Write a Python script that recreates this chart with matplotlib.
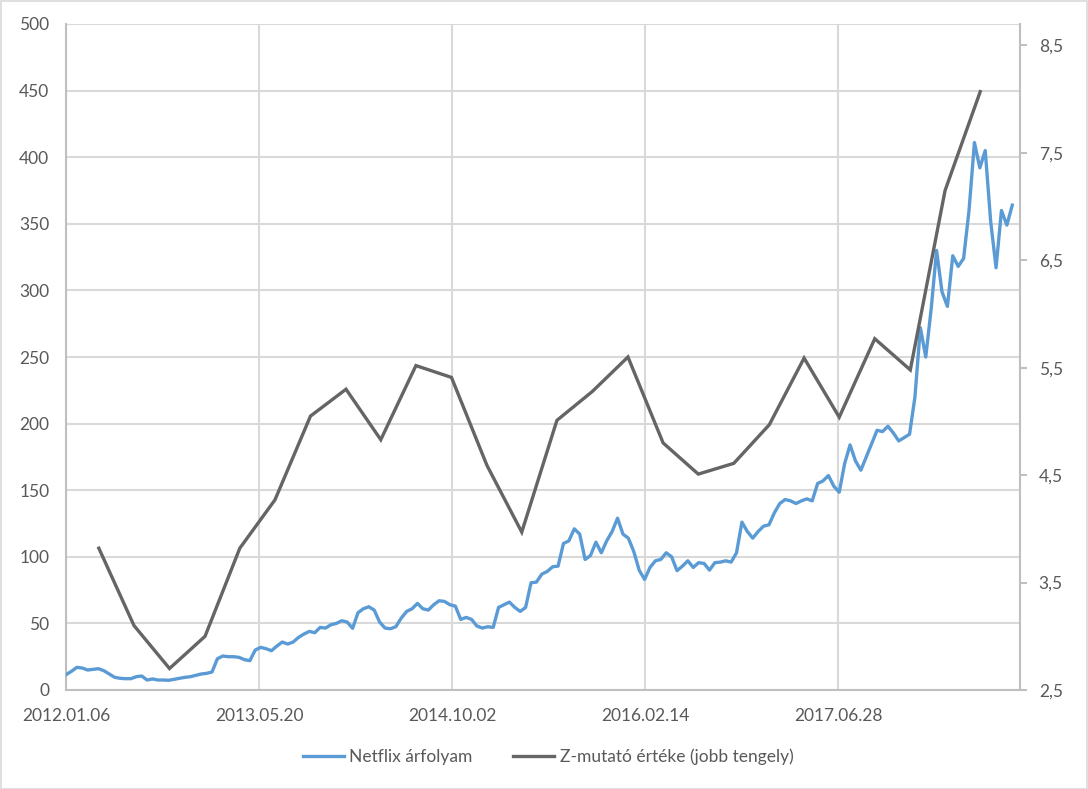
import matplotlib
matplotlib.use("Agg")
import matplotlib.pyplot as plt
import matplotlib.dates as mdates
from matplotlib.ticker import FuncFormatter, FixedLocator
import pandas as pd
import numpy as np

# ---- data ----
netflix_start = "2012-01-06"
netflix_step_days = 14
netflix_values = [
    11.5, 14, 17, 16.5, 15, 15.5, 16, 14.5, 12, 9.5,
    8.8, 8.5, 8.5, 10, 10.5, 7.5, 8.3, 7.5, 7.5, 7.3,
    8, 8.8, 9.5, 10, 11, 12, 12.5, 13.5, 23.5, 25.5,
    25, 25, 24.5, 22.8, 22, 30, 32, 31, 29.5, 33,
    36, 34.5, 36, 39.5, 42, 44, 43, 47, 46.5, 49,
    50, 52, 51, 46.3, 58, 61, 62.5, 60, 51, 46.5,
    46, 47.5, 54, 59, 61, 65, 61, 60, 64, 67,
    66.5, 64, 63, 53, 54.5, 53, 48, 46.5, 47.5, 47,
    62, 64, 66, 62, 59, 62, 80.5, 81, 87, 89,
    92.5, 93, 110, 112, 121, 117, 98, 101, 111, 103,
    112, 119, 129, 117, 114, 104, 90, 83, 92, 97,
    98, 103, 100, 89.6, 93, 97, 92, 95.6, 95, 90,
    95.6, 96, 97, 96, 103, 126, 119, 114, 119, 123,
    124, 133, 140, 143, 142, 140, 142, 143.5, 142, 155,
    157, 161, 153, 148.5, 170, 184, 172, 165, 175, 185,
    195, 194, 198, 193, 187, 189.5, 192, 220, 272, 250,
    286, 330, 299, 288, 326, 318, 324, 360, 411, 392,
    405, 352, 317, 360, 349, 364,
]
netflix_dates = pd.date_range(netflix_start, periods=len(netflix_values),
                              freq=f"{netflix_step_days}D")

z_dates = pd.date_range("2012-03-31", "2018-06-30", freq="QE")
z_values = [
    3.82, 3.10, 2.70, 3.00, 3.82, 4.27, 5.05, 5.30, 4.83, 5.52,
    5.41, 4.59, 3.97, 5.01, 5.28, 5.60, 4.80, 4.51, 4.61, 4.97,
    5.59, 5.04, 5.77, 5.48, 7.15, 8.07,
]

x_ticks = ["2012-01-06", "2013-05-20", "2014-10-02", "2016-02-14", "2017-06-28"]
x_end = "2018-10-11"
left_ticks = list(range(0, 501, 50))
right_ticks = [2.5, 3.5, 4.5, 5.5, 6.5, 7.5, 8.5]

label_netflix = "Netflix árfolyam"
label_z = "Z-mutató értéke (jobb tengely)"

# ---- style ----
plt.rcParams['font.family'] = ['Lato', 'DejaVu Sans']
txt_color = "#595959"
grid_color = "#D9D9D9"
axis_color = "#BFBFBF"
blue = "#5B9BD5"
gray = "#666464"
fs = 12.5

W, H = 1088, 789
fig = plt.figure(figsize=(W / 100, H / 100), dpi=100)
ax = fig.add_axes([66 / W, 1 - 690 / H, (1020 - 66) / W, (690 - 24) / H])
ax2 = ax.twinx()

ln1, = ax.plot(netflix_dates, netflix_values, color=blue, lw=2.4,
               solid_joinstyle="round", zorder=3)
ln2, = ax2.plot(z_dates, z_values, color=gray, lw=2.4,
                solid_joinstyle="miter", zorder=3)

ax.set_xlim(pd.Timestamp(x_ticks[0]), pd.Timestamp(x_end))
ax.set_ylim(0, 500)
ax2.set_ylim(2.5, 8.7)

ax.xaxis.set_major_locator(FixedLocator(mdates.date2num(pd.to_datetime(x_ticks))))
ax.xaxis.set_major_formatter(mdates.DateFormatter("%Y.%m.%d"))
ax.set_yticks(left_ticks)
ax2.set_yticks(right_ticks)
ax2.yaxis.set_major_formatter(FuncFormatter(lambda v, p: f"{v:.1f}".replace(".", ",")))

ax.grid(True, color=grid_color, lw=1.5, zorder=0)
ax.set_axisbelow(True)

for a in (ax, ax2):
    for s in a.spines.values():
        s.set_visible(False)
ax.spines['bottom'].set_visible(True)
ax.spines['bottom'].set_color(axis_color)
ax.spines['bottom'].set_linewidth(1.5)
ax.spines['left'].set_visible(True)
ax.spines['left'].set_color(axis_color)
ax.spines['left'].set_linewidth(1.5)
ax2.spines['right'].set_visible(True)
ax2.spines['right'].set_color(axis_color)
ax2.spines['right'].set_linewidth(1.5)

ax.tick_params(axis='y', length=0, pad=12, labelsize=fs, labelcolor=txt_color)
ax.tick_params(axis='x', length=0, pad=13, labelsize=fs, labelcolor=txt_color)
ax2.tick_params(axis='y', length=5, width=1.5, color=axis_color, pad=8.5,
                labelsize=fs, labelcolor=txt_color)

leg = fig.legend([ln1, ln2], [label_netflix, label_z], loc="center",
                 bbox_to_anchor=(548 / W, 1 - 757 / H), ncol=2, frameon=False,
                 fontsize=fs, handlelength=2.4, handletextpad=0.3,
                 columnspacing=2.3)
for t in leg.get_texts():
    t.set_color(txt_color)

fig.patches.append(plt.Rectangle((0.5 / W, 0.5 / H), 1 - 1.5 / W, 1 - 1.5 / H,
                                 transform=fig.transFigure, fill=False,
                                 edgecolor=grid_color, lw=1.2))

fig.savefig("out.png", dpi=100)
